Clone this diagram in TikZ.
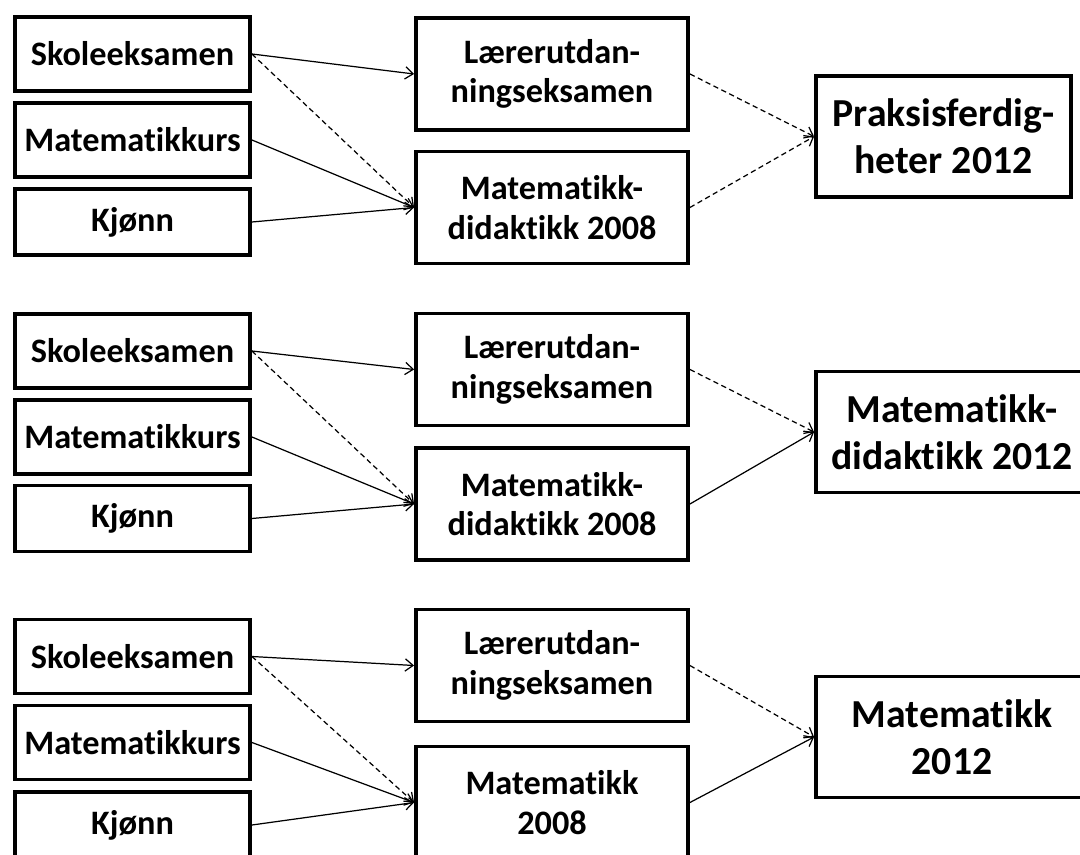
\documentclass[tikz,border=0pt]{standalone}
\usepackage{fontspec}
\setmainfont{Carlito}[Ligatures=CommonOff]
\usepackage{tikz}
\usetikzlibrary{arrows.meta, positioning}

\begin{document}
\begin{tikzpicture}[
  indep/.style={rectangle, draw=black, line width=2.2pt, inner sep=0pt,
    font=\bfseries\fontsize{19.5}{22.4}\selectfont, minimum width=4.7cm, minimum height=1.48cm},
  media/.style={rectangle, draw=black, line width=2.2pt, inner sep=0pt, align=center,
    font=\bfseries\fontsize{19.5}{22.4}\selectfont, minimum width=5.44cm, minimum height=2.24cm},
  result/.style={rectangle, draw=black, line width=2.2pt, inner sep=0pt, align=center,
    font=\bfseries\fontsize{22.6}{26.7}\selectfont, minimum width=5.1cm, minimum height=2.42cm},
  line/.style={-{Straight Barb[length=4.5pt,width=7pt]}, line width=0.7pt},
  dline/.style={line, dash pattern=on 3pt off 2pt}
]
\clip (0,0) rectangle (21.6,-17.1);

% Praksisferdigheter
\node[indep] (sk1) at (2.65,-1.08) {Skoleeksamen};
\node[indep] (mk1) at (2.65,-2.80) {Matematikkurs};
\node[indep, minimum height=1.32cm] (kj1) at (2.65,-4.44) {Kjønn};
\node[media] (lu1) at (11.04,-1.48) {Lærerutdan-\\ningseksamen};
\node[media] (md1) at (11.04,-4.15) {Matematikk-\\didaktikk 2008};
\node[result] (pf1) at (18.87,-2.73) {Praksisferdig-\\heter 2012};

\draw[line]  (sk1.east) -- (lu1.west);
\draw[dline] (sk1.east) -- (md1.west);
\draw[line]  (mk1.east) -- (md1.west);
\draw[line]  (kj1.east) -- (md1.west);
\draw[dline] (lu1.east) -- (pf1.west);
\draw[dline] (md1.east) -- (pf1.west);

% Matematikkdidaktikk
\node[indep] (sk2) at (2.65,-7.02) {Skoleeksamen};
\node[indep] (mk2) at (2.65,-8.74) {Matematikkurs};
\node[indep, minimum height=1.32cm] (kj2) at (2.65,-10.37) {Kjønn};
\node[media] (lu2) at (11.04,-7.39) {Lærerutdan-\\ningseksamen};
\node[media] (md2) at (11.04,-10.08) {Matematikk-\\didaktikk 2008};
\node[result, minimum width=5.44cm] (md12) at (19.04,-8.64) {Matematikk-\\didaktikk 2012};

\draw[line]  (sk2.east) -- (lu2.west);
\draw[dline] (sk2.east) -- (md2.west);
\draw[line]  (mk2.east) -- (md2.west);
\draw[line]  (kj2.east) -- (md2.west);
\draw[dline] (lu2.east) -- (md12.west);
\draw[line]  (md2.east) -- (md12.west);

% Matematikk
\node[indep] (sk3) at (2.65,-13.13) {Skoleeksamen};
\node[indep] (mk3) at (2.65,-14.85) {Matematikkurs};
\node[indep, minimum height=1.32cm] (kj3) at (2.65,-16.50) {Kjønn};
\node[media] (lu3) at (11.04,-13.31) {Lærerutdan-\\ningseksamen};
\node[media] (ma3) at (11.04,-16.05) {Matematikk\\2008};
\node[result, minimum width=5.44cm] (ma12) at (19.04,-14.74) {Matematikk\\2012};

\draw[line]  (sk3.east) -- (lu3.west);
\draw[dline] (sk3.east) -- (ma3.west);
\draw[line]  (mk3.east) -- (ma3.west);
\draw[line]  (kj3.east) -- (ma3.west);
\draw[dline] (lu3.east) -- (ma12.west);
\draw[line]  (ma3.east) -- (ma12.west);
\end{tikzpicture}
\end{document}
